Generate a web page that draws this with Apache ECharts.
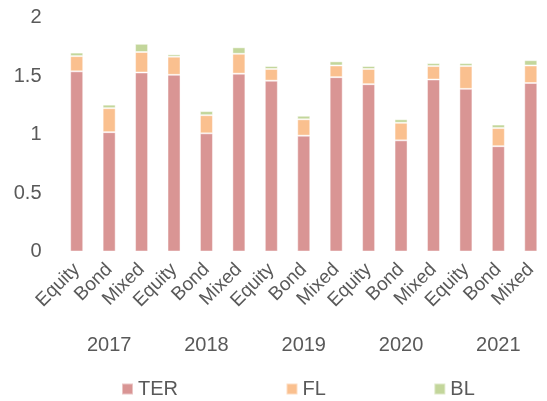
<!DOCTYPE html>
<html>
<head>
<meta charset="utf-8">
<script src="https://cdn.jsdelivr.net/npm/echarts@6/dist/echarts.min.js"></script>
<style>
  html, body { margin: 0; padding: 0; background: #ffffff; }
  #chart { width: 547px; height: 401px; }
</style>
</head>
<body>
<div id="chart"></div>
<script>
// Fund types repeated for each year
const categories = [
  'Equity', 'Bond', 'Mixed',
  'Equity', 'Bond', 'Mixed',
  'Equity', 'Bond', 'Mixed',
  'Equity', 'Bond', 'Mixed',
  'Equity', 'Bond', 'Mixed'
];
const years = ['2017', '2018', '2019', '2020', '2021'];

// Cost components (stacked)
const ter = [1.54, 1.02, 1.53, 1.51, 1.01, 1.52, 1.46, 0.99, 1.49, 1.43, 0.95, 1.47, 1.39, 0.90, 1.44];
const fl  = [0.13, 0.205, 0.175, 0.155, 0.155, 0.17, 0.10, 0.14, 0.10, 0.13, 0.15, 0.115, 0.195, 0.155, 0.15];
const bl  = [0.03, 0.03, 0.07, 0.02, 0.035, 0.055, 0.025, 0.03, 0.035, 0.025, 0.03, 0.025, 0.025, 0.03, 0.045];

const yTicks = { min: 0, max: 2, interval: 0.5 };

const textColor = '#595959';
const font = 'Liberation Sans, Arial, sans-serif';

function barSeries(name, data, color) {
  return {
    name: name,
    type: 'bar',
    stack: 'cost',
    data: data,
    barWidth: 13,
    itemStyle: { color: color, borderColor: 'rgba(255,255,255,0.45)', borderWidth: 1 },
    emphasis: { disabled: true }
  };
}

const chart = echarts.init(document.getElementById('chart'), null, { renderer: 'canvas' });
chart.setOption({
  animation: false,
  textStyle: { fontFamily: font },
  grid: { left: 60.5, top: 17.5, width: 494.4, height: 234, containLabel: false },
  legend: {
    left: 116,
    top: 374,
    itemWidth: 11,
    itemHeight: 11,
    itemGap: 107.5,
    icon: 'rect',
    textStyle: { color: textColor, fontSize: 20, fontFamily: font },
    data: ['TER', 'FL', 'BL']
  },
  xAxis: [
    {
      type: 'category',
      data: categories,
      axisLine: { show: false },
      axisTick: { show: false },
      axisLabel: {
        interval: 0,
        rotate: 45,
        margin: 15,
        color: textColor,
        fontSize: 19,
        fontFamily: font
      }
    },
    {
      type: 'category',
      data: years,
      position: 'bottom',
      offset: 76,
      axisLine: { show: false },
      axisTick: { show: false },
      axisLabel: { color: textColor, fontSize: 20, fontFamily: font, margin: 8 }
    }
  ],
  yAxis: {
    type: 'value',
    min: yTicks.min,
    max: yTicks.max,
    interval: yTicks.interval,
    splitLine: { show: false },
    axisLine: { show: false },
    axisTick: { show: false },
    axisLabel: { color: textColor, fontSize: 20, fontFamily: font, margin: 19 }
  },
  series: [
    barSeries('TER', ter, '#D99594'),
    barSeries('FL', fl, '#FAC08F'),
    barSeries('BL', bl, '#C3D69B')
  ]
});
</script>
</body>
</html>
